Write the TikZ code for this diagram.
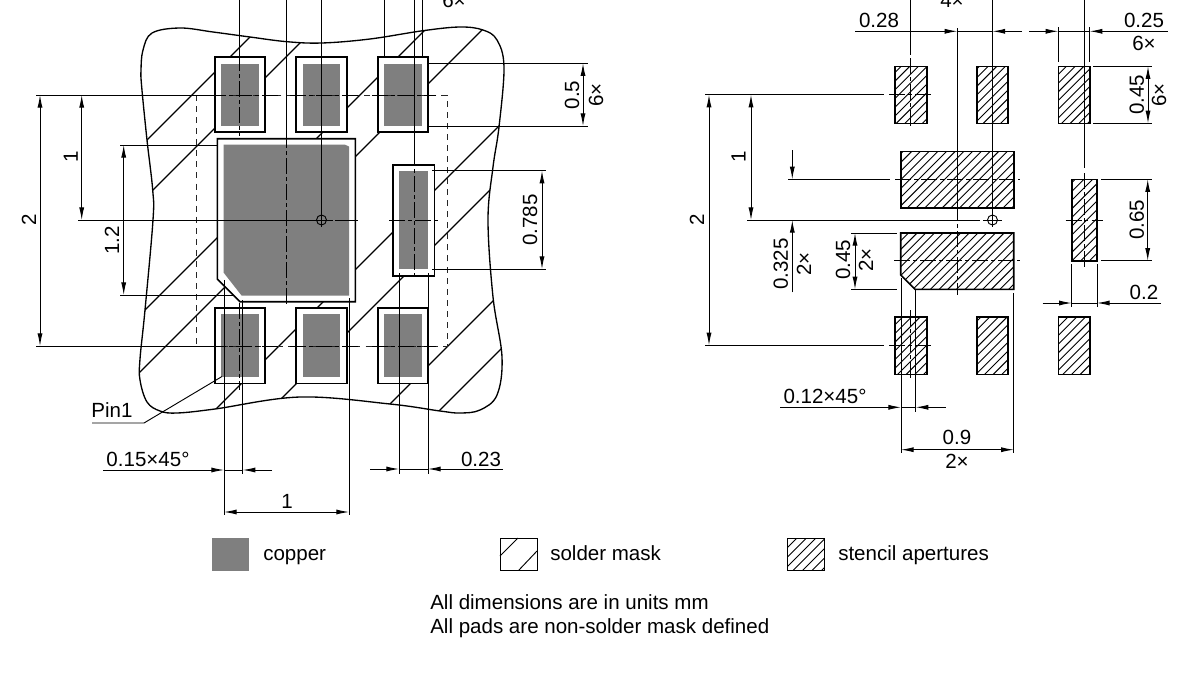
\documentclass[tikz,border=0pt]{standalone}
\usepackage{fontspec}
\setmainfont{Liberation Sans}
\usetikzlibrary{arrows.meta}
\definecolor{copperc}{RGB}{127,127,127}
\def\blobpts{(141,70) (143,50) (152,33) (180,28) (213,32) (250,37) (287,41.7) (322,43) (370,39) (423,30.7) (460,27) (483,30) (497,40) (504,67) (499,127) (493,167) (488,220) (493,297) (502,357) (497,395) (480,410) (460,413) (440,411) (390,404) (300,397) (215,409) (177,413) (160,411) (147,402) (140,380) (140,359) (145,310) (153,220) (152.7,190) (147,140) (141.7,87)}
\tikzset{
 x=0.75pt,y=-0.75pt,
 thinl/.style={line width=0.7pt,black},
 outl/.style={line width=1.2pt,black},
 hatchl/.style={line width=0.95pt,black},
 fineh/.style={line width=0.7pt,black},
 padm/.style={outl,fill=white},
 cu/.style={fill=copperc,draw=none},
 cl/.style={line width=0.7pt,black,dash pattern=on 12pt off 2.5pt on 2.5pt off 2.5pt},
 dsh/.style={line width=0.7pt,black!85,dash pattern=on 4.5pt off 3.8pt},
 ar/.style={thinl,-{Latex[length=9.5pt,width=3.8pt]}},
 arb/.style={thinl,{Latex[length=9.5pt,width=3.8pt]}-{Latex[length=9.5pt,width=3.8pt]}},
 lab/.style={font=\fontsize{15.4}{18}\selectfont,inner sep=0pt,anchor=center},
 rlab/.style={lab,rotate=90},
 leg/.style={font=\fontsize{15.4}{18}\selectfont,inner sep=0pt,anchor=base west},
}
\begin{document}
\begin{tikzpicture}
\useasboundingbox (0,0) rectangle (1200,675);
% ---------- left view: solder mask
\draw[line width=1pt] plot[smooth cycle,tension=0.6] coordinates {\blobpts};
\begin{scope}
\clip plot[smooth cycle,tension=0.6] coordinates {\blobpts};
\foreach \c in {287,343,455,512,625,680,794,850}
  \draw[hatchl] (\c-0,0) -- (0,\c);
\end{scope}
% pads
\foreach \xa/\xb/\ca/\cb in {215/265/221/258.7,296/346.7/302.7/340.3,377.7/428/384/422}{
  \draw[padm] (\xa,57) rectangle (\xb,132);
  \fill[cu] (\ca,63.5) rectangle (\cb,126);
  \draw[padm] (\xa,307.7) rectangle (\xb,383.3);
  \fill[cu] (\ca,314) rectangle (\cb,377);
}
\draw[padm] (392.7,164.7) rectangle (434.3,275.7);
\fill[cu] (399,170.7) rectangle (428,269);
\draw[padm] (217.3,138.7) -- (355.3,138.7) -- (355.3,301.7) -- (240,301.7) -- (217.3,279) -- cycle;
\fill[cu] (223.7,144.7) -- (345,144.7) -- (349,146.5) -- (349,295.7) -- (241.7,295.7) -- (223.7,272.7) -- cycle;
% dashed outline
\draw[dsh] (196,95) rectangle (447,346);
% extension / centre lines left view
\draw[thinl] (36,95) -- (210,95);
\draw[thinl] (36,346) -- (210,346);
\draw[cl] (210,95) -- (278,95);
\draw[cl] (210,346) -- (278,346);
\draw[cl] (290,95) -- (360,95);
\draw[cl] (290,346) -- (360,346);
\draw[cl] (372,95) -- (436,95);
\draw[cl] (372,346) -- (436,346);
\draw[thinl] (239.7,0) -- (239.7,55);
\draw[cl] (239.7,55) -- (239.7,136);
\draw[cl] (239.7,303) -- (239.7,390);
\draw[thinl] (286.7,0) -- (286.7,132);
\draw[cl] (286.7,132) -- (286.7,305);
\draw[thinl] (321.5,0) -- (321.5,227);
\draw[thinl] (384,0) -- (384,57);
\draw[thinl] (422,0) -- (422,57);
\draw[thinl] (414,0) -- (414,150);
\draw[cl] (414,150) -- (414,278);
\draw[cl] (389,220) -- (438,220);
\draw[thinl] (78,220) -- (315,220);
\draw[thinl] (335,220) -- (358,220);
\node[circle,draw=black,line width=0.7pt,minimum size=7.5pt,inner sep=0pt] (holeL) at (321.5,220) {};
\draw[thinl] (holeL.west) -- ++(-3,0);
\draw[thinl] (holeL.east) -- ++(6,0);
\draw[thinl] (holeL.west) -- (holeL.east);
% dims left view
\draw[thinl] (120,145) -- (217.3,145);
\draw[thinl] (120,295) -- (234,295);
\draw[arb] (40,95) -- (40,346);
\draw[arb] (81.7,95) -- (81.7,220);
\draw[arb] (123.7,145) -- (123.7,295);
\node[rlab] (tA) at (29,220) {2};
\node[rlab] (tB) at (70.7,157) {1};
\node[rlab] (tC) at (112,240.5) {1.2};
% top right dims
\draw[thinl] (428,63.3) -- (588,63.3);
\draw[thinl] (428,126) -- (588,126);
\draw[arb] (583,63.3) -- (583,126);
\node[rlab] (tD) at (572,95) {0.5};
\node[rlab] (tE) at (596,95) {6×};
\node[lab] (tF) at (454,0) {6×};
\draw[thinl] (432,170.7) -- (545.7,170.7);
\draw[thinl] (432,269) -- (545.7,269);
\draw[arb] (542,170.7) -- (542,269);
\node[rlab] (tG) at (530,220) {0.785};
% bottom dims left view
\draw[thinl] (224,280) -- (224,515);
\draw[thinl] (349,298) -- (349,515);
\draw[arb] (224,512) -- (349,512);
\node[lab] (tH) at (287,501) {1};
\draw[thinl] (242.7,300) -- (242.7,474);
\draw[ar] (103,470) -- (224,470);
\draw[thinl] (224,470) -- (242.7,470);
\draw[ar] (272,470) -- (242.7,470);
\node[lab] (tI) at (148,459) {0.15×45°};
\draw[thinl] (399,273) -- (399,474);
\draw[thinl] (428,273) -- (428,474);
\draw[ar] (370,469) -- (399,469);
\draw[thinl] (399,469) -- (428,469);
\draw[ar] (503,469) -- (428,469);
\node[lab] (tJ) at (481,459) {0.23};
\node[lab] (tK) at (112,410) {Pin1};
\draw[thinl] (92,423) -- (144,423) -- (222,376.5);
% ---------- right view: stencil
\begin{scope}
\clip (895,66.3) rectangle (926.7,123.3)
      (976.7,66.3) rectangle (1008,123.3)
      (1058.3,66.3) rectangle (1089.7,123.3)
      (895,316.7) rectangle (926.7,374.3)
      (976.7,316.7) rectangle (1008,374.3)
      (1058.3,316.7) rectangle (1089.7,374.3)
      (1071.7,179.3) rectangle (1097,260.7)
      (900.7,151.3) rectangle (1013.7,208)
      (900.7,233) -- (1013.7,233) -- (1013.7,289.3) -- (915,289.3) -- (900.7,275) -- cycle;
\foreach \n in {0,...,80}
  \draw[fineh] ({950+\n*8.7},0) -- ++(-600,600);
\end{scope}
\foreach \xa/\xb/\ya/\yb in {895/926.7/66.3/123.3,976.7/1008/66.3/123.3,1058.3/1089.7/66.3/123.3,895/926.7/316.7/374.3,976.7/1008/316.7/374.3,1058.3/1089.7/316.7/374.3,1071.7/1097/179.3/260.7,900.7/1013.7/151.3/208}
  \draw[outl] (\xa,\ya) rectangle (\xb,\yb);
\draw[outl] (900.7,233) -- (1013.7,233) -- (1013.7,289.3) -- (915,289.3) -- (900.7,275) -- cycle;
% verticals
\draw[thinl] (910.7,0) -- (910.7,55);
\draw[cl] (910.7,58) -- (910.7,129);
\draw[cl] (910.7,310) -- (910.7,380);
\draw[thinl] (957.3,28) -- (957.3,205);
\draw[cl] (957.3,205) -- (957.3,295);
\draw[thinl] (992.5,0) -- (992.5,227);
\draw[thinl] (1058.3,27) -- (1058.3,62);
\draw[thinl] (1089.7,27) -- (1089.7,62);
\draw[thinl] (1084.3,0) -- (1084.3,168);
\draw[cl] (1084.3,173) -- (1084.3,267);
% horizontals
\draw[thinl] (705,94.7) -- (884,94.7);
\draw[cl] (889,94.7) -- (932,94.7);
\draw[thinl] (705,345.3) -- (884,345.3);
\draw[cl] (889,345.3) -- (933,345.3);
\draw[thinl] (788,179.3) -- (890,179.3);
\draw[cl] (895,179.3) -- (1020,179.3);
\draw[cl] (894,260.7) -- (1020,260.7);
\draw[thinl] (747,220) -- (980,220);
\node[circle,draw=black,line width=0.7pt,minimum size=7.5pt,inner sep=0pt] (holeR) at (992.5,220) {};
\draw[thinl] ([xshift=-3pt]holeR.west) -- ([xshift=3pt]holeR.east);
\draw[cl] (1065.7,220) -- (1103,220);
% dims
\draw[arb] (709,94.7) -- (709,345.3);
\draw[arb] (751,94.7) -- (751,220);
\node[rlab] (tL) at (697,220) {2};
\node[rlab] (tM) at (738.5,157) {1};
\draw[ar] (855,31.3) -- (957.3,31.3);
\draw[thinl] (957.3,31.3) -- (992.5,31.3);
\draw[ar] (1022,31.3) -- (992.5,31.3);
\node[lab] (tN) at (879,20) {0.28};
\node[lab] (tO) at (952,0) {4×};
\draw[ar] (1029,31.3) -- (1058.3,31.3);
\draw[thinl] (1058.3,31.3) -- (1089.7,31.3);
\draw[ar] (1167.7,31.3) -- (1089.7,31.3);
\node[lab] (tP) at (1144,20) {0.25};
\node[lab] (tQ) at (1144,43) {6×};
\draw[thinl] (1093,66.3) -- (1151.7,66.3);
\draw[thinl] (1093,123.3) -- (1151.7,123.3);
\draw[arb] (1148,66.3) -- (1148,123.3);
\node[rlab] (tR) at (1136.7,95) {0.45};
\node[rlab] (tS) at (1159,95) {6×};
\draw[thinl] (1101,179.3) -- (1151.7,179.3);
\draw[thinl] (1101,260.7) -- (1151.7,260.7);
\draw[arb] (1147.7,179.3) -- (1147.7,260.7);
\node[rlab] (tT) at (1136.7,220) {0.65};
\draw[thinl] (1071.7,264) -- (1071.7,306.7);
\draw[thinl] (1097,264) -- (1097,306.7);
\draw[ar] (1042.7,303) -- (1071.7,303);
\draw[thinl] (1071.7,303) -- (1097,303);
\draw[ar] (1161,303) -- (1097,303);
\node[lab] (tU) at (1144,292) {0.2};
\draw[thinl] (851,233) -- (896.7,233);
\draw[thinl] (851,289.3) -- (896.7,289.3);
\draw[arb] (855,233) -- (855,289.3);
\node[rlab] (tV) at (843,260) {0.45};
\node[rlab] (tW) at (866,260) {2×};
\draw[ar] (792.3,150) -- (792.3,179.3);
\draw[ar] (792.3,292.3) -- (792.3,220);
\node[rlab] (tX) at (780.7,264) {0.325};
\node[rlab] (tY) at (804,264) {2×};
\draw[thinl] (901,278) -- (901,453);
\draw[thinl] (915.7,290) -- (915.7,411.7);
\draw[ar] (780,407.3) -- (901,407.3);
\draw[thinl] (901,407.3) -- (915.7,407.3);
\draw[ar] (945.7,407.3) -- (915.7,407.3);
\node[lab] (tZ) at (825,396) {0.12×45°};
\draw[thinl] (1013.7,293) -- (1013.7,453);
\draw[arb] (901,449.7) -- (1013.7,449.7);
\node[lab] (ta) at (957,437.7) {0.9};
\node[lab] (tb) at (957,461.7) {2×};
% ---------- legend
\fill[cu] (212,538) rectangle (248.5,570.5);
\node[leg] (tc) at (263,560) {copper};
\draw[thinl] (500,538) rectangle (537,570.5);
\draw[thinl] (500,556) -- (518,538);
\draw[thinl] (518.5,570.5) -- (537,551);
\node[leg] (td) at (550,560) {solder mask};
\begin{scope}
\clip (787,538) rectangle (824,570.5);
\foreach \n in {0,...,8}
  \draw[fineh] ({797+\n*9.5},538) -- ++(-40,40);
\end{scope}
\draw[thinl] (787,538) rectangle (824,570.5);
\node[leg] (te) at (838,560) {stencil apertures};
\node[leg] (tf) at (430,609.5) {All dimensions are in units mm};
\node[leg] (tg) at (430,633.5) {All pads are non-solder mask defined};
\end{tikzpicture}
\end{document}
